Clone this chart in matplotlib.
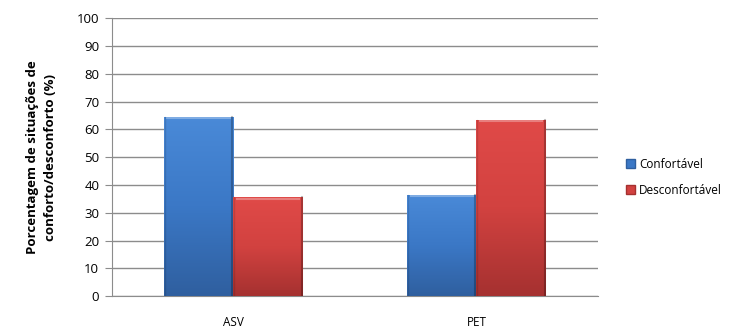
import numpy as np
import matplotlib
matplotlib.use("Agg")
import matplotlib.pyplot as plt
from matplotlib.colors import LinearSegmentedColormap
from matplotlib.patches import Patch

plt.rcParams['font.family'] = ['Open Sans', 'DejaVu Sans']

indices = ["ASV", "PET"]
series = ["Confortável", "Desconfortável"]
confortavel = [64.5, 36.5]
desconfortavel = [35.5, 63.5]
yticks = list(range(0, 101, 10))

# light top -> base -> dark bottom for each series
palettes = {
    "Confortável": ["#4a8ad8", "#3b78c6", "#2f5f9f"],
    "Desconfortável": ["#e04a48", "#d24240", "#a53130"],
}

fig = plt.figure(figsize=(7.55, 3.35), dpi=100)
ax = fig.add_axes([0.148, 0.116, 0.644, 0.830])

x = np.arange(len(indices))
w = 0.285


def gradient_bar(ax, xc, h, cols):
    cmap = LinearSegmentedColormap.from_list("g", cols)
    bars = ax.bar(xc, h, w, color="none", edgecolor="none", zorder=3)
    b = bars[0]
    grad = np.linspace(0, 1, 256).reshape(-1, 1)
    im = ax.imshow(grad, cmap=cmap, aspect="auto", zorder=3,
                   extent=[xc - w / 2, xc + w / 2, 0, h], vmin=0, vmax=1)
    im.set_clip_path(b)
    # bevel: bright top edge and darker right edge
    ax.plot([xc - w / 2 + 0.01, xc + w / 2 - 0.01], [h - 0.6, h - 0.6],
            color="white", alpha=0.3, lw=1.5, zorder=4, solid_capstyle="butt")
    ax.plot([xc + w / 2 - 0.004, xc + w / 2 - 0.004], [0, h],
            color="black", alpha=0.25, lw=1.5, zorder=4)
    ax.plot([xc - w / 2 + 0.003, xc - w / 2 + 0.003], [0, h],
            color="black", alpha=0.12, lw=1, zorder=4)


for i in range(len(indices)):
    gradient_bar(ax, x[i] - w / 2, confortavel[i], palettes["Confortável"])
    gradient_bar(ax, x[i] + w / 2, desconfortavel[i], palettes["Desconfortável"])

ax.set_xlim(-0.5, 1.5)
ax.set_ylim(0, 100)
ax.set_yticks(yticks)
ax.set_xticks(x)
ax.set_xticklabels(indices, fontsize=8.5)
ax.tick_params(axis="y", labelsize=9.5, length=5, color="#8c8c8c", pad=4)
ax.tick_params(axis="x", length=0, pad=14)
ax.yaxis.grid(True, color="#8c8c8c", lw=1)
ax.set_axisbelow(True)
for s in ["top", "right"]:
    ax.spines[s].set_visible(False)
for s in ["left", "bottom"]:
    ax.spines[s].set_color("#8c8c8c")

ax.set_ylabel("Porcentagem de situações de\nconforto/desconforto (%)",
              fontsize=9.5, fontweight="bold", labelpad=14, linespacing=1.5)

handles = [Patch(facecolor=palettes[s][1], edgecolor=palettes[s][2]) for s in series]
fig.legend(handles, series, loc="center left", bbox_to_anchor=(0.815, 0.47),
           frameon=False, fontsize=8.5, handlelength=0.8, handleheight=0.8,
           handletextpad=0.3, labelspacing=1.1)

fig.savefig("out.png", dpi=100)
